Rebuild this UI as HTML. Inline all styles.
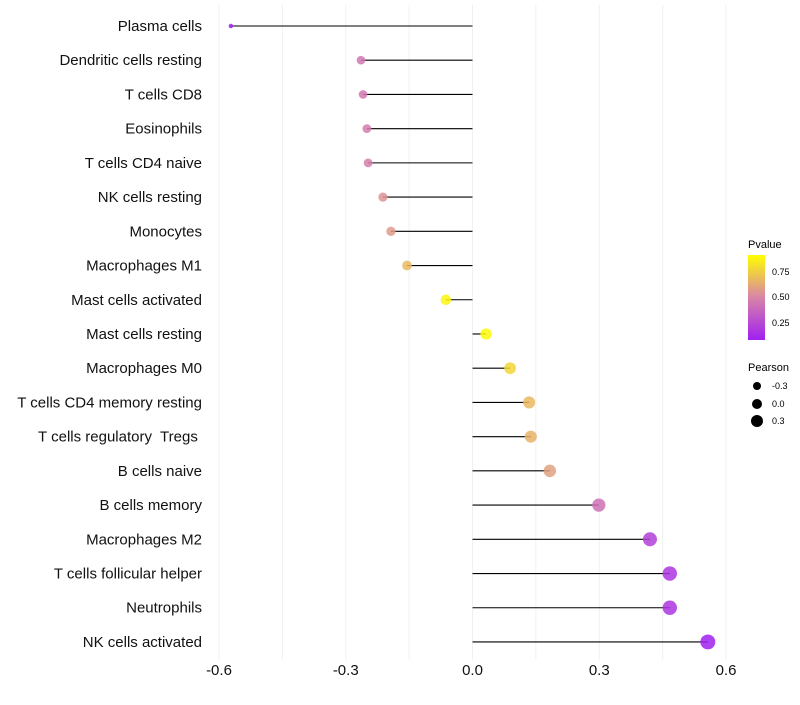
<!DOCTYPE html>
<html><head><meta charset="utf-8"><style>
body{margin:0;background:#fff;font-family:"Liberation Sans",sans-serif}
text{white-space:pre}
</style></head><body>
<svg id="chart" width="800" height="700" xmlns="http://www.w3.org/2000/svg">
<defs><linearGradient id="pg" x1="0" y1="1" x2="0" y2="0">
<stop offset="0" stop-color="#A020F0"/><stop offset="0.5" stop-color="#D884A8"/><stop offset="1" stop-color="#FFFF00"/></linearGradient></defs>
<g id="grid"></g><g id="marks"></g><g id="labels"></g>
<g font-size="10">
<text x="748" y="248" font-size="11">Pvalue</text>
<rect x="748" y="255" width="17" height="85" fill="url(#pg)"/>
<text x="772" y="275" font-size="9">0.75</text><text x="772" y="300" font-size="9">0.50</text><text x="772" y="326" font-size="9">0.25</text>
<text x="748" y="371" font-size="11">Pearson</text>
<circle cx="757" cy="386" r="4"/><text x="772" y="389" font-size="9">-0.3</text>
<circle cx="757" cy="404" r="5"/><text x="772" y="407" font-size="9">0.0</text>
<circle cx="757" cy="421" r="6"/><text x="772" y="424" font-size="9">0.3</text>
</g>
</svg>
<script>
const cells=["Plasma cells","Dendritic cells resting","T cells CD8","Eosinophils","T cells CD4 naive","NK cells resting","Monocytes","Macrophages M1","Mast cells activated","Mast cells resting","Macrophages M0","T cells CD4 memory resting","T cells regulatory  Tregs ","B cells naive","B cells memory","Macrophages M2","T cells follicular helper","Neutrophils","NK cells activated"];
const pearson=[-0.572,-0.264,-0.259,-0.25,-0.247,-0.212,-0.193,-0.155,-0.063,0.032,0.089,0.134,0.138,0.183,0.299,0.42,0.467,0.467,0.557];
const pvalue=[0.05,0.45,0.45,0.47,0.48,0.55,0.58,0.68,0.88,0.9,0.78,0.68,0.66,0.6,0.42,0.22,0.17,0.17,0.08];
const ticks=[-0.6,-0.3,0.0,0.3,0.6];
const tickLabels=["-0.6","-0.3","0.0","0.3","0.6"];
const NS="http://www.w3.org/2000/svg";
const x=v=>472.5+v*422.5;
const y=i=>26+i*34.22;
function mk(t,a,p){const e=document.createElementNS(NS,t);for(const k in a)e.setAttribute(k,a[k]);p.appendChild(e);return e;}
function lerp(a,b,t){return a.map((v,i)=>Math.round(v+(b[i]-v)*t));}
function col(p){const t=Math.max(0,Math.min(1,(p-0.083)/(0.917-0.083)));const A=[160,32,240],M=[216,132,168],B=[255,255,0];const c=t<0.5?lerp(A,M,t*2):lerp(M,B,(t-0.5)*2);return `rgb(${c})`;}
const g=document.getElementById('grid'),m=document.getElementById('marks'),lb=document.getElementById('labels');
for(let v=-0.6;v<=0.601;v+=0.15){const l=mk('line',{x1:x(v),x2:x(v),y1:5,y2:660,stroke:'#f0f0f0','stroke-width':1},g);

}
ticks.forEach((t,i)=>{const e=mk('text',{x:x(t),y:675,'text-anchor':'middle','font-size':15,fill:'#111'},lb);e.textContent=tickLabels[i];

});
cells.forEach((c,i)=>{
const e=mk('text',{x:202,y:y(i)+5,'text-anchor':'end','font-size':15,fill:'#111'},lb);e.textContent=c;


const ln=mk('line',{x1:x(0),x2:x(pearson[i]),y1:y(i),y2:y(i),stroke:'#000','stroke-width':1.1},m);


const r=Math.sqrt(Math.max(1.5,5+(pearson[i]+0.57)*45));
const d=mk('circle',{cx:x(pearson[i]),cy:y(i),r:r,fill:col(pvalue[i]),'fill-opacity':0.85},m);


});
</script>
</body></html>
